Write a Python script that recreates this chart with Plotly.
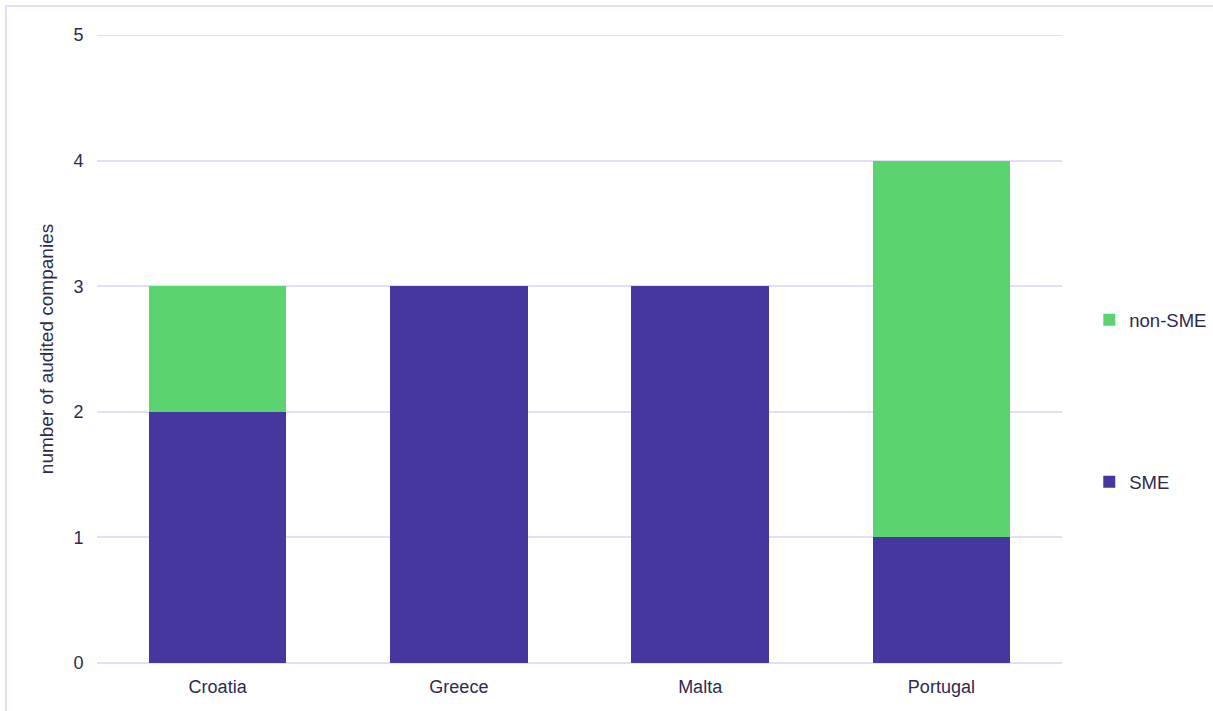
import plotly.graph_objects as go

countries = ["Croatia", "Greece", "Malta", "Portugal"]
sme = [2, 3, 3, 1]
non_sme = [1, 0, 0, 3]

PURPLE = "#46379F"
GREEN = "#5BD36E"
TXT = "#2E2A4D"
GRID = "#E1DEF5"

fig = go.Figure()
fig.add_trace(go.Bar(x=countries, y=sme, name="SME", marker_color=PURPLE,
                     marker_line_width=0, legendgroup="a", legendrank=2))
fig.add_trace(go.Bar(x=countries, y=non_sme, name="non-SME", marker_color=GREEN,
                     marker_line_width=0, legendgroup="b", legendrank=1))

fig.update_layout(
    width=1213, height=711,
    barmode="stack", bargap=0.43,
    margin=dict(l=97, r=151, t=35, b=48, autoexpand=False),
    paper_bgcolor="white", plot_bgcolor="white",
    font=dict(family="Liberation Sans, Arial, sans-serif", size=18, color=TXT),
    legend=dict(xref="container", x=0.898, xanchor="left", y=0.417, yanchor="middle",
                traceorder="grouped", tracegroupgap=135,
                font=dict(size=18.5, color=TXT), itemwidth=30),
    xaxis=dict(showgrid=False, showline=False, ticks="outside", ticklen=7,
               tickcolor="rgba(0,0,0,0)", tickfont=dict(size=18)),
    yaxis=dict(range=[0, 5], dtick=1, gridcolor=GRID, gridwidth=2,
               zeroline=True, zerolinecolor=GRID, zerolinewidth=2,
               ticks="outside", ticklen=9, tickcolor="rgba(0,0,0,0)",
               title=dict(text="number of audited companies", font=dict(size=19), standoff=14),
               tickfont=dict(size=18)),
    shapes=[dict(type="rect", xref="paper", yref="paper",
                 x0=-91/965, x1=1.3, y0=-0.2, y1=(663-6)/628,
                 line=dict(color=GRID, width=2), layer="below"),
            dict(type="line", xref="paper", yref="y", x0=0, x1=1, y0=5, y1=5,
                 line=dict(color=GRID, width=2), layer="below")],
)

fig.write_html("out.html")
